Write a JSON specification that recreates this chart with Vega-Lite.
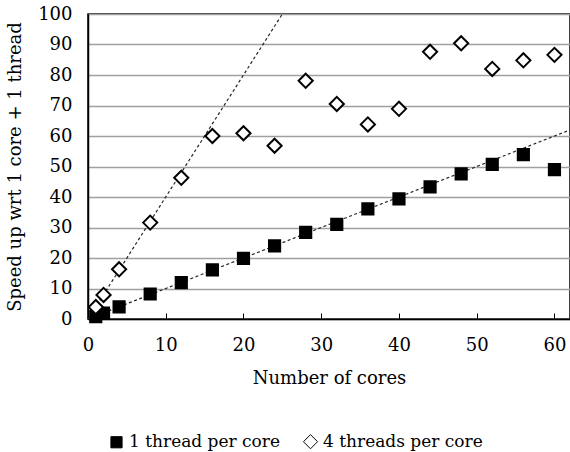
{
  "$schema": "https://vega.github.io/schema/vega-lite/v6.json",
  "width": 482,
  "height": 305,
  "autosize": {"type": "none"},
  "padding": {"left": 88, "top": 14, "right": 0, "bottom": 133},
  "background": "white",
  "view": {"stroke": "black", "strokeWidth": 1.5},
  "config": {
    "font": "DejaVu Serif",
    "axis": {"labelFont": "DejaVu Serif", "titleFont": "DejaVu Serif", "labelColor": "black", "titleColor": "black", "titleFontWeight": "normal"},
    "legend": {"labelFont": "DejaVu Serif", "labelColor": "black"}
  },
  "datasets": {
    "pts": [
      {"cores": 1, "speedup": 0.8, "series": "1 thread per core"},
      {"cores": 2, "speedup": 1.9, "series": "1 thread per core"},
      {"cores": 4, "speedup": 4.0, "series": "1 thread per core"},
      {"cores": 8, "speedup": 8.2, "series": "1 thread per core"},
      {"cores": 12, "speedup": 11.9, "series": "1 thread per core"},
      {"cores": 16, "speedup": 16.1, "series": "1 thread per core"},
      {"cores": 20, "speedup": 19.9, "series": "1 thread per core"},
      {"cores": 24, "speedup": 24.0, "series": "1 thread per core"},
      {"cores": 28, "speedup": 28.4, "series": "1 thread per core"},
      {"cores": 32, "speedup": 31.0, "series": "1 thread per core"},
      {"cores": 36, "speedup": 36.1, "series": "1 thread per core"},
      {"cores": 40, "speedup": 39.4, "series": "1 thread per core"},
      {"cores": 44, "speedup": 43.3, "series": "1 thread per core"},
      {"cores": 48, "speedup": 47.6, "series": "1 thread per core"},
      {"cores": 52, "speedup": 50.7, "series": "1 thread per core"},
      {"cores": 56, "speedup": 53.9, "series": "1 thread per core"},
      {"cores": 60, "speedup": 49.0, "series": "1 thread per core"},
      {"cores": 1, "speedup": 3.9, "series": "4 threads per core"},
      {"cores": 2, "speedup": 7.9, "series": "4 threads per core"},
      {"cores": 4, "speedup": 16.3, "series": "4 threads per core"},
      {"cores": 8, "speedup": 31.6, "series": "4 threads per core"},
      {"cores": 12, "speedup": 46.3, "series": "4 threads per core"},
      {"cores": 16, "speedup": 60.0, "series": "4 threads per core"},
      {"cores": 20, "speedup": 60.9, "series": "4 threads per core"},
      {"cores": 24, "speedup": 56.8, "series": "4 threads per core"},
      {"cores": 28, "speedup": 78.1, "series": "4 threads per core"},
      {"cores": 32, "speedup": 70.5, "series": "4 threads per core"},
      {"cores": 36, "speedup": 63.8, "series": "4 threads per core"},
      {"cores": 40, "speedup": 68.9, "series": "4 threads per core"},
      {"cores": 44, "speedup": 87.6, "series": "4 threads per core"},
      {"cores": 48, "speedup": 90.4, "series": "4 threads per core"},
      {"cores": 52, "speedup": 82.0, "series": "4 threads per core"},
      {"cores": 56, "speedup": 84.8, "series": "4 threads per core"},
      {"cores": 60, "speedup": 86.6, "series": "4 threads per core"}
    ],
    "ideal": [
      {"cores": 0, "speedup": 0, "line": "1x"},
      {"cores": 62, "speedup": 62, "line": "1x"},
      {"cores": 0, "speedup": 0, "line": "4x"},
      {"cores": 25, "speedup": 100, "line": "4x"}
    ]
  },
  "encoding": {
    "x": {
      "field": "cores", "type": "quantitative",
      "scale": {"domain": [0, 62], "nice": false, "zero": false},
      "axis": {
        "title": "Number of cores", "values": [0, 10, 20, 30, 40, 50, 60],
        "grid": false, "domainColor": "black", "domainWidth": 1.5,
        "tickColor": "black", "tickSize": -6, "tickWidth": 1,
        "labelFont": "DejaVu Serif", "titleFont": "DejaVu Serif",
        "labelFontSize": 18, "labelPadding": 23, "labelFlush": false,
        "titleFontSize": 18, "titlePadding": 15
      }
    },
    "y": {
      "field": "speedup", "type": "quantitative",
      "scale": {"domain": [0, 100], "nice": false},
      "axis": {
        "title": "Speed up wrt 1 core + 1 thread", "values": [0, 10, 20, 30, 40, 50, 60, 70, 80, 90, 100],
        "grid": true, "gridColor": "#a0a0a0", "gridWidth": 1.5,
        "domainColor": "black", "domainWidth": 1.5, "ticks": false,
        "labelFont": "DejaVu Serif", "titleFont": "DejaVu Serif",
        "labelFontSize": 18, "labelPadding": 16, "labelFlush": false,
        "titleFontSize": 18, "titlePadding": 13
      }
    }
  },
  "layer": [
    {
      "data": {"name": "ideal"},
      "mark": {"type": "line", "color": "#262626", "strokeWidth": 1.2, "strokeDash": [3, 2.5], "clip": true},
      "encoding": {"detail": {"field": "line"}}
    },
    {
      "data": {"name": "pts"},
      "mark": {"type": "point", "filled": false, "stroke": "black", "strokeWidth": 2, "opacity": 1},
      "encoding": {
        "size": {
          "field": "series", "type": "nominal",
          "scale": {"domain": ["1 thread per core", "4 threads per core"], "range": [125, 200]},
          "legend": {
            "title": null, "orient": "none", "direction": "horizontal",
            "legendX": 20, "legendY": 419, "labelFontSize": 17, "labelLimit": 400,
            "symbolStrokeWidth": 1, "columnPadding": 20, "labelOffset": 4
          }
        },
        "shape": {
          "field": "series", "type": "nominal",
          "scale": {"domain": ["1 thread per core", "4 threads per core"], "range": ["square", "diamond"]},
          "legend": {
            "title": null, "orient": "none", "direction": "horizontal",
            "legendX": 20, "legendY": 419, "labelFontSize": 17, "labelLimit": 400,
            "symbolStrokeWidth": 1, "columnPadding": 20, "labelOffset": 4
          }
        },
        "fill": {
          "field": "series", "type": "nominal",
          "scale": {"domain": ["1 thread per core", "4 threads per core"], "range": ["black", "white"]},
          "legend": {
            "title": null, "orient": "none", "direction": "horizontal",
            "legendX": 20, "legendY": 419, "labelFontSize": 17, "labelLimit": 400,
            "symbolStrokeWidth": 1, "columnPadding": 20, "labelOffset": 4
          }
        }
      }
    }
  ]
}
